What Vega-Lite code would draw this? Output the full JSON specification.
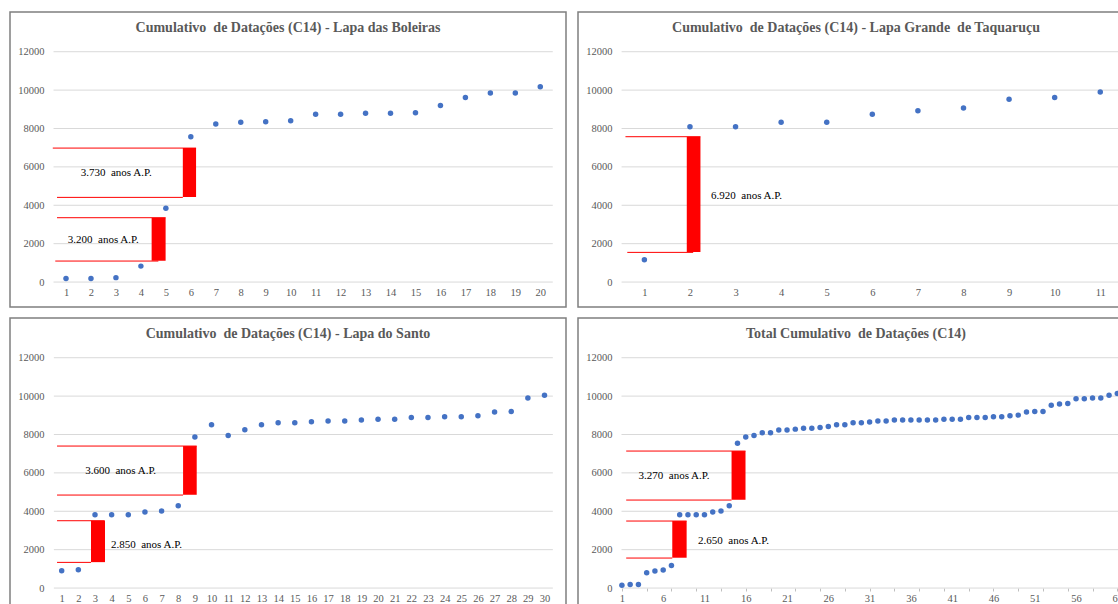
{
  "$schema": "https://vega.github.io/schema/vega-lite/v6.json",
  "padding": {"left": 9, "top": 11, "right": 0, "bottom": 0},
  "background": "white",
  "datasets": {
    "grid": [{"g": 0}, {"g": 2000}, {"g": 4000}, {"g": 6000}, {"g": 8000}, {"g": 10000}, {"g": 12000}],
    "boleiras": [
      {"n": 1, "v": 190}, {"n": 2, "v": 190}, {"n": 3, "v": 230}, {"n": 4, "v": 830}, {"n": 5, "v": 3850},
      {"n": 6, "v": 7570}, {"n": 7, "v": 8230}, {"n": 8, "v": 8320}, {"n": 9, "v": 8350}, {"n": 10, "v": 8400},
      {"n": 11, "v": 8740}, {"n": 12, "v": 8740}, {"n": 13, "v": 8790}, {"n": 14, "v": 8790}, {"n": 15, "v": 8820},
      {"n": 16, "v": 9200}, {"n": 17, "v": 9620}, {"n": 18, "v": 9850}, {"n": 19, "v": 9850}, {"n": 20, "v": 10180}
    ],
    "taquarucu": [
      {"n": 1, "v": 1160}, {"n": 2, "v": 8090}, {"n": 3, "v": 8090}, {"n": 4, "v": 8320}, {"n": 5, "v": 8320},
      {"n": 6, "v": 8740}, {"n": 7, "v": 8930}, {"n": 8, "v": 9070}, {"n": 9, "v": 9530}, {"n": 10, "v": 9620},
      {"n": 11, "v": 9900}
    ],
    "santo": [
      {"n": 1, "v": 900}, {"n": 2, "v": 955}, {"n": 3, "v": 3820}, {"n": 4, "v": 3820}, {"n": 5, "v": 3820},
      {"n": 6, "v": 3960}, {"n": 7, "v": 4010}, {"n": 8, "v": 4290}, {"n": 9, "v": 7870}, {"n": 10, "v": 8510},
      {"n": 11, "v": 7950}, {"n": 12, "v": 8250}, {"n": 13, "v": 8510}, {"n": 14, "v": 8610}, {"n": 15, "v": 8610},
      {"n": 16, "v": 8670}, {"n": 17, "v": 8700}, {"n": 18, "v": 8700}, {"n": 19, "v": 8750}, {"n": 20, "v": 8790},
      {"n": 21, "v": 8790}, {"n": 22, "v": 8890}, {"n": 23, "v": 8890}, {"n": 24, "v": 8930}, {"n": 25, "v": 8930},
      {"n": 26, "v": 8980}, {"n": 27, "v": 9170}, {"n": 28, "v": 9200}, {"n": 29, "v": 9900}, {"n": 30, "v": 10040}
    ],
    "total": [
      {"n": 1, "v": 140}, {"n": 2, "v": 190}, {"n": 3, "v": 190}, {"n": 4, "v": 800}, {"n": 5, "v": 890},
      {"n": 6, "v": 940}, {"n": 7, "v": 1180}, {"n": 8, "v": 3820}, {"n": 9, "v": 3820}, {"n": 10, "v": 3820},
      {"n": 11, "v": 3820}, {"n": 12, "v": 3960}, {"n": 13, "v": 4010}, {"n": 14, "v": 4290}, {"n": 15, "v": 7540},
      {"n": 16, "v": 7870}, {"n": 17, "v": 7950}, {"n": 18, "v": 8090}, {"n": 19, "v": 8090}, {"n": 20, "v": 8230},
      {"n": 21, "v": 8230}, {"n": 22, "v": 8280}, {"n": 23, "v": 8320}, {"n": 24, "v": 8320}, {"n": 25, "v": 8370},
      {"n": 26, "v": 8420}, {"n": 27, "v": 8510}, {"n": 28, "v": 8510}, {"n": 29, "v": 8610}, {"n": 30, "v": 8610},
      {"n": 31, "v": 8650}, {"n": 32, "v": 8700}, {"n": 33, "v": 8700}, {"n": 34, "v": 8750}, {"n": 35, "v": 8750},
      {"n": 36, "v": 8750}, {"n": 37, "v": 8750}, {"n": 38, "v": 8750}, {"n": 39, "v": 8750}, {"n": 40, "v": 8790},
      {"n": 41, "v": 8790}, {"n": 42, "v": 8790}, {"n": 43, "v": 8890}, {"n": 44, "v": 8890}, {"n": 45, "v": 8890},
      {"n": 46, "v": 8930}, {"n": 47, "v": 8930}, {"n": 48, "v": 8980}, {"n": 49, "v": 9010}, {"n": 50, "v": 9170},
      {"n": 51, "v": 9200}, {"n": 52, "v": 9200}, {"n": 53, "v": 9530}, {"n": 54, "v": 9590}, {"n": 55, "v": 9620},
      {"n": 56, "v": 9860}, {"n": 57, "v": 9860}, {"n": 58, "v": 9900}, {"n": 59, "v": 9900}, {"n": 60, "v": 10040},
      {"n": 61, "v": 10140}
    ],
    "b_lines": [
      {"x1": 0.47, "x2": 6.21, "y": 6980}, {"x1": 0.64, "x2": 5.68, "y": 4411},
      {"x1": 0.64, "x2": 4.99, "y": 3352}, {"x1": 0.57, "x2": 4.7, "y": 1094}
    ],
    "b_rects": [
      {"x1": 5.68, "x2": 6.21, "y1": 4430, "y2": 6980}, {"x1": 4.43, "x2": 4.99, "y1": 1110, "y2": 3352}
    ],
    "b_text": [
      {"x": 3.01, "y": 5680, "label": "3.730\u00a0 anos A.P."}, {"x": 2.49, "y": 2205, "label": "3.200\u00a0 anos A.P."}
    ],
    "t_lines": [
      {"x1": 0.585, "x2": 2.23, "y": 7572}, {"x1": 0.625, "x2": 2.07, "y": 1546}
    ],
    "t_rects": [
      {"x1": 1.93, "x2": 2.23, "y1": 1563, "y2": 7572}
    ],
    "t_text": [
      {"x": 3.24, "y": 4498, "label": "6.920\u00a0 anos A.P."}
    ],
    "s_lines": [
      {"x1": 0.72, "x2": 9.11, "y": 7398}, {"x1": 0.72, "x2": 8.29, "y": 4845},
      {"x1": 0.72, "x2": 3.58, "y": 3508}, {"x1": 0.72, "x2": 2.76, "y": 1337}
    ],
    "s_rects": [
      {"x1": 8.29, "x2": 9.11, "y1": 4860, "y2": 7398}, {"x1": 2.76, "x2": 3.6, "y1": 1350, "y2": 3508}
    ],
    "s_text": [
      {"x": 4.54, "y": 6078, "label": "3.600\u00a0 anos A.P."}, {"x": 6.09, "y": 2223, "label": "2.850\u00a0 anos A.P."}
    ],
    "o_lines": [
      {"x1": 1.52, "x2": 15.97, "y": 7138}, {"x1": 1.52, "x2": 14.28, "y": 4585},
      {"x1": 1.52, "x2": 8.84, "y": 3491}, {"x1": 1.52, "x2": 7.1, "y": 1563}
    ],
    "o_rects": [
      {"x1": 14.28, "x2": 15.97, "y1": 4600, "y2": 7138}, {"x1": 7.1, "x2": 8.84, "y1": 1580, "y2": 3491}
    ],
    "o_text": [
      {"x": 7.31, "y": 5852, "label": "3.270\u00a0 anos A.P."}, {"x": 14.52, "y": 2466, "label": "2.650\u00a0 anos A.P."}
    ]
  },
  "vconcat": [
    {
      "hconcat": [
        {
          "width": 556, "height": 295,
          "title": {"text": "Cumulativo\u00a0 de Datações (C14) - Lapa das Boleiras"},
          "layer": [
            {
              "data": {"name": "grid"},
              "mark": {"type": "rule", "color": "#d9d9d9", "strokeWidth": 1},
              "encoding": {
                "y": {"field": "g", "type": "quantitative", "scale": {"domain": [-1300, 14070], "nice": false, "zero": false}, "axis": {"values": [0, 2000, 4000, 6000, 8000, 10000, 12000], "tickCount": 100}},
                "x": {"datum": 0.5, "type": "quantitative", "scale": {"domain": [-1.244, 21.03], "nice": false, "zero": false}, "axis": {"values": [1,2,3,4,5,6,7,8,9,10,11,12,13,14,15,16,17,18,19,20], "tickCount": 100}},
                "x2": {"datum": 20.5}
              }
            },
            {
              "data": {"name": "b_lines"},
              "mark": {"type": "rule", "color": "#ff0000", "strokeWidth": 1},
              "encoding": {"x": {"field": "x1", "type": "quantitative"}, "x2": {"field": "x2"}, "y": {"field": "y", "type": "quantitative"}}
            },
            {
              "data": {"name": "b_rects"},
              "mark": {"type": "rect", "color": "#ff0000"},
              "encoding": {"x": {"field": "x1", "type": "quantitative"}, "x2": {"field": "x2"}, "y": {"field": "y1", "type": "quantitative"}, "y2": {"field": "y2"}}
            },
            {
              "data": {"name": "boleiras"},
              "mark": {"type": "circle", "color": "#4472c4", "size": 30, "opacity": 1},
              "encoding": {"x": {"field": "n", "type": "quantitative"}, "y": {"field": "v", "type": "quantitative"}}
            },
            {
              "data": {"name": "b_text"},
              "mark": {"type": "text", "font": "Liberation Serif", "fontSize": 11, "color": "#000000", "align": "center", "baseline": "middle"},
              "encoding": {"x": {"field": "x", "type": "quantitative"}, "y": {"field": "y", "type": "quantitative"}, "text": {"field": "label"}}
            }
          ]
        },
        {
          "width": 556, "height": 295,
          "title": {"text": "Cumulativo\u00a0 de Datações (C14) - Lapa Grande\u00a0 de Taquaruçu"},
          "layer": [
            {
              "data": {"name": "grid"},
              "mark": {"type": "rule", "color": "#d9d9d9", "strokeWidth": 1},
              "encoding": {
                "y": {"field": "g", "type": "quantitative", "scale": {"domain": [-1300, 14070], "nice": false, "zero": false}, "axis": {"values": [0, 2000, 4000, 6000, 8000, 10000, 12000], "tickCount": 100}},
                "x": {"datum": 0.5, "type": "quantitative", "scale": {"domain": [-0.456, 11.74], "nice": false, "zero": false}, "axis": {"values": [1,2,3,4,5,6,7,8,9,10,11], "tickCount": 100}},
                "x2": {"datum": 11.6}
              }
            },
            {
              "data": {"name": "t_lines"},
              "mark": {"type": "rule", "color": "#ff0000", "strokeWidth": 1},
              "encoding": {"x": {"field": "x1", "type": "quantitative"}, "x2": {"field": "x2"}, "y": {"field": "y", "type": "quantitative"}}
            },
            {
              "data": {"name": "t_rects"},
              "mark": {"type": "rect", "color": "#ff0000"},
              "encoding": {"x": {"field": "x1", "type": "quantitative"}, "x2": {"field": "x2"}, "y": {"field": "y1", "type": "quantitative"}, "y2": {"field": "y2"}}
            },
            {
              "data": {"name": "taquarucu"},
              "mark": {"type": "circle", "color": "#4472c4", "size": 30, "opacity": 1},
              "encoding": {"x": {"field": "n", "type": "quantitative"}, "y": {"field": "v", "type": "quantitative"}}
            },
            {
              "data": {"name": "t_text"},
              "mark": {"type": "text", "font": "Liberation Serif", "fontSize": 11, "color": "#000000", "align": "center", "baseline": "middle"},
              "encoding": {"x": {"field": "x", "type": "quantitative"}, "y": {"field": "y", "type": "quantitative"}, "text": {"field": "label"}}
            }
          ]
        }
      ],
      "spacing": 10
    },
    {
      "hconcat": [
        {
          "width": 556, "height": 295,
          "title": {"text": "Cumulativo\u00a0 de Datações (C14) - Lapa do Santo"},
          "layer": [
            {
              "data": {"name": "grid"},
              "mark": {"type": "rule", "color": "#d9d9d9", "strokeWidth": 1},
              "encoding": {
                "y": {"field": "g", "type": "quantitative", "scale": {"domain": [-1300, 14070], "nice": false, "zero": false}, "axis": {"values": [0, 2000, 4000, 6000, 8000, 10000, 12000], "tickCount": 100}},
                "x": {"datum": 0.53, "type": "quantitative", "scale": {"domain": [-2.105, 31.29], "nice": false, "zero": false}, "axis": {"values": [1,2,3,4,5,6,7,8,9,10,11,12,13,14,15,16,17,18,19,20,21,22,23,24,25,26,27,28,29,30], "tickCount": 100}},
                "x2": {"datum": 30.5}
              }
            },
            {
              "data": {"name": "s_lines"},
              "mark": {"type": "rule", "color": "#ff0000", "strokeWidth": 1},
              "encoding": {"x": {"field": "x1", "type": "quantitative"}, "x2": {"field": "x2"}, "y": {"field": "y", "type": "quantitative"}}
            },
            {
              "data": {"name": "s_rects"},
              "mark": {"type": "rect", "color": "#ff0000"},
              "encoding": {"x": {"field": "x1", "type": "quantitative"}, "x2": {"field": "x2"}, "y": {"field": "y1", "type": "quantitative"}, "y2": {"field": "y2"}}
            },
            {
              "data": {"name": "santo"},
              "mark": {"type": "circle", "color": "#4472c4", "size": 30, "opacity": 1},
              "encoding": {"x": {"field": "n", "type": "quantitative"}, "y": {"field": "v", "type": "quantitative"}}
            },
            {
              "data": {"name": "s_text"},
              "mark": {"type": "text", "font": "Liberation Serif", "fontSize": 11, "color": "#000000", "align": "center", "baseline": "middle"},
              "encoding": {"x": {"field": "x", "type": "quantitative"}, "y": {"field": "y", "type": "quantitative"}, "text": {"field": "label"}}
            }
          ]
        },
        {
          "width": 556, "height": 295,
          "title": {"text": "Total Cumulativo\u00a0 de Datações (C14)"},
          "layer": [
            {
              "data": {"name": "grid"},
              "mark": {"type": "rule", "color": "#d9d9d9", "strokeWidth": 1},
              "encoding": {
                "y": {"field": "g", "type": "quantitative", "scale": {"domain": [-1300, 14070], "nice": false, "zero": false}, "axis": {"values": [0, 2000, 4000, 6000, 8000, 10000, 12000], "tickCount": 100}},
                "x": {"datum": 0.95, "type": "quantitative", "scale": {"domain": [-4.317, 63.02], "nice": false, "zero": false}, "axis": {"values": [1,4,6,7,10,11,13,16,19,21,22,25,26,28,31,34,36,37,40,41,43,46,49,51,52,55,56,58,61], "tickCount": 100, "labelExpr": "(datum.value - 1) % 5 == 0 ? datum.label : ''", "ticks": true, "tickSize": 3, "tickColor": "#bfbfbf", "tickOpacity": {"condition": {"test": "(datum.value - 1) % 3 == 0", "value": 1}, "value": 0}, "offset": -25, "labelPadding": 2}},
                "x2": {"datum": 62.5}
              }
            },
            {
              "data": {"name": "o_lines"},
              "mark": {"type": "rule", "color": "#ff0000", "strokeWidth": 1},
              "encoding": {"x": {"field": "x1", "type": "quantitative"}, "x2": {"field": "x2"}, "y": {"field": "y", "type": "quantitative"}}
            },
            {
              "data": {"name": "o_rects"},
              "mark": {"type": "rect", "color": "#ff0000"},
              "encoding": {"x": {"field": "x1", "type": "quantitative"}, "x2": {"field": "x2"}, "y": {"field": "y1", "type": "quantitative"}, "y2": {"field": "y2"}}
            },
            {
              "data": {"name": "total"},
              "mark": {"type": "circle", "color": "#4472c4", "size": 30, "opacity": 1},
              "encoding": {"x": {"field": "n", "type": "quantitative"}, "y": {"field": "v", "type": "quantitative"}}
            },
            {
              "data": {"name": "o_text"},
              "mark": {"type": "text", "font": "Liberation Serif", "fontSize": 11, "color": "#000000", "align": "center", "baseline": "middle"},
              "encoding": {"x": {"field": "x", "type": "quantitative"}, "y": {"field": "y", "type": "quantitative"}, "text": {"field": "label"}}
            }
          ]
        }
      ],
      "spacing": 10
    }
  ],
  "spacing": 9,
  "config": {
    "view": {"stroke": "#7f7f7f", "strokeWidth": 1.5},
    "title": {"font": "Liberation Serif", "fontSize": 14, "fontWeight": "bold", "color": "#595959", "offset": -23, "anchor": "middle"},
    "axis": {"labelFont": "Liberation Serif", "labelFontSize": 10.5, "labelColor": "#595959", "domain": false, "ticks": false, "tickSize": 0, "grid": false, "labelPadding": 2, "title": null, "labelOverlap": false, "labelFlush": false, "labelBound": false, "format": "d"},
    "axisX": {"offset": -22},
    "axisY": {"offset": -36}
  }
}
